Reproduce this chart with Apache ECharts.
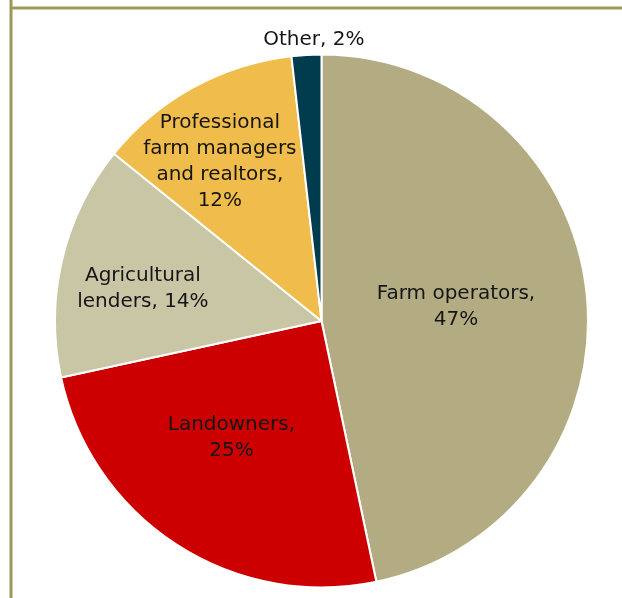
<!DOCTYPE html>
<html>
<head>
<meta charset="utf-8">
<script src="https://cdn.jsdelivr.net/npm/echarts@6/dist/echarts.min.js"></script>
<style>
html,body{margin:0;padding:0;background:#fff;}
#c{width:622px;height:598px;}
</style>
</head>
<body>
<div id="c"></div>
<script>
var categories = ["Farm operators", "Landowners", "Agricultural lenders", "Professional farm managers and realtors", "Other"];
var values = [46.7, 24.9, 14.2, 12.4, 1.8];
var labelTexts = ["Farm operators,\n47%", "Landowners,\n25%", "Agricultural\nlenders, 14%", "Professional\nfarm managers\nand realtors,\n12%", "Other, 2%"];

var colors = ["#b3ac82", "#cc0000", "#c9c6a6", "#f0bc4c", "#003c4e"];
var labelOffsets = [[-1, 0], [-16, 2], [-46, -1], [-36, -40], [0, -145]];

var chart = echarts.init(document.getElementById('c'));
chart.setOption({
  animation: false,
  backgroundColor: '#ffffff',
  graphic: [
    {type: 'line', shape: {x1: 10, y1: 8, x2: 622, y2: 8}, style: {stroke: '#a0975f', lineWidth: 3}},
    {type: 'line', shape: {x1: 11, y1: 0, x2: 11, y2: 598}, style: {stroke: '#a0975f', lineWidth: 3}}
  ],
  series: [{
    type: 'pie',
    center: [321.5, 321],
    radius: 266.5,
    startAngle: 90,
    clockwise: true,
    avoidLabelOverlap: false,
    itemStyle: {borderColor: '#ffffff', borderWidth: 2},
    label: {
      show: true,
      position: 'inside',
      color: '#151515',
      fontFamily: 'DejaVu Sans',
      fontSize: 20,
      lineHeight: 26,
      align: 'center',
      formatter: function (p) { return labelTexts[p.dataIndex]; }
    },
    labelLine: {show: false},
    labelLayout: function (p) {
      var o = labelOffsets[p.dataIndex];
      return {dx: o[0], dy: o[1]};
    },
    emphasis: {disabled: true},
    data: categories.map(function (c, i) {
      return {name: c, value: values[i], itemStyle: {color: colors[i]}};
    })
  }]
});
</script>
</body>
</html>
